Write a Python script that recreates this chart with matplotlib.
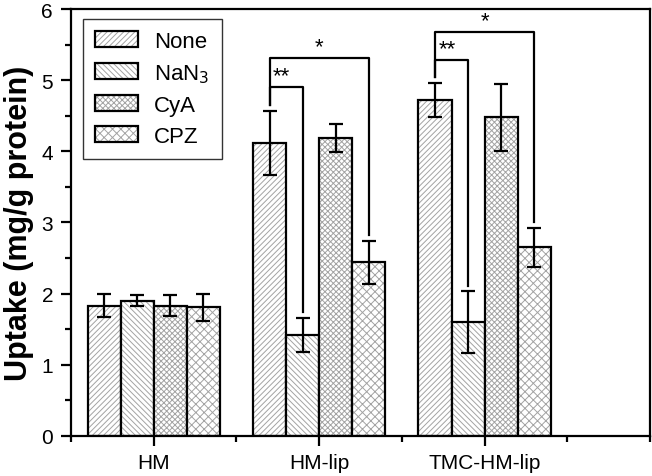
import numpy as np
import matplotlib
matplotlib.use('Agg')
import matplotlib.pyplot as plt
from matplotlib.patches import Patch
from matplotlib.legend_handler import HandlerTuple
from matplotlib.ticker import MultipleLocator

hatch_grey = '#a3a3a3'

plt.rcParams['font.family'] = ['Liberation Sans', 'DejaVu Sans']
plt.rcParams['hatch.linewidth'] = 0.7
plt.rcParams['hatch.color'] = hatch_grey

# data
groups = ['HM', 'HM-lip', 'TMC-HM-lip']
treatments = ['None', 'NaN$_3$', 'CyA', 'CPZ']
none_vals = [1.83, 4.12, 4.72]
nan3_vals = [1.90, 1.42, 1.60]
cya_vals = [1.83, 4.19, 4.48]
cpz_vals = [1.81, 2.44, 2.65]
none_err = [0.16, 0.45, 0.24]
nan3_err = [0.08, 0.24, 0.43]
cya_err = [0.15, 0.20, 0.47]
cpz_err = [0.19, 0.30, 0.27]
hatches = ['//////', '\\\\\\\\\\\\', 'xxxxxx', 'xxxx']

values = [none_vals, nan3_vals, cya_vals, cpz_vals]
errors = [none_err, nan3_err, cya_err, cpz_err]

fig = plt.figure(figsize=(6.52, 4.77), dpi=100)
ax = fig.add_axes([0.109, 0.084, 0.888, 0.895])

x = np.arange(len(groups))
width = 0.2
offsets = [-0.3, -0.1, 0.1, 0.3]

for vals, errs, off, h in zip(values, errors, offsets, hatches):
    # hatch in grey, outline in black
    ax.bar(x + off, vals, width, color='white', edgecolor=hatch_grey, hatch=h, linewidth=0)
    ax.bar(x + off, vals, width, color='none', edgecolor='black', linewidth=1.6)
    ax.errorbar(x + off, vals, yerr=errs, fmt='none', ecolor='black',
                elinewidth=1.6, capsize=5, capthick=1.6)

# significance brackets: (group, from bar, to bar, level, text)
brackets = [
    (1, 0, 1, 4.90, '**'),
    (1, 0, 3, 5.31, '*'),
    (2, 0, 1, 5.28, '**'),
    (2, 0, 3, 5.67, '*'),
]
for g, i, j, level, txt in brackets:
    x1 = g + offsets[i]
    x2 = g + offsets[j]
    y1 = values[i][g] + errors[i][g] + 0.08
    y2 = values[j][g] + errors[j][g] + 0.08
    ax.plot([x1, x1, x2, x2], [y1, level, level, y2], color='black', lw=1.6)
    if txt == '**':
        ax.text(x1 + 0.02, level + 0.02, txt, ha='left', va='bottom', fontsize=16)
    else:
        ax.text((x1 + x2) / 2, level + 0.02, txt, ha='center', va='bottom', fontsize=16)

ax.set_xlim(-0.5, 3.0)
ax.set_ylim(0, 6)
ax.set_xticks(x)
ax.set_xticklabels(groups, fontsize=15)
ax.xaxis.set_minor_locator(MultipleLocator(0.5))
ax.yaxis.set_major_locator(MultipleLocator(1))
ax.yaxis.set_minor_locator(MultipleLocator(0.5))
ax.tick_params(axis='both', which='major', direction='out', length=7, width=1.6, labelsize=15)
ax.tick_params(axis='both', which='minor', direction='out', length=4, width=1.6)
ax.tick_params(axis='x', which='both', pad=5)
ax.tick_params(axis='y', which='major', pad=6)
for s in ax.spines.values():
    s.set_linewidth(1.6)
ax.tick_params(top=False, right=False, which='both')

ax.set_ylabel('Uptake (mg/g protein)', fontsize=22, fontweight='bold')
ax.yaxis.set_label_coords(-0.064, 0.5)

handles = [(Patch(facecolor='white', edgecolor=hatch_grey, hatch=h, linewidth=0),
            Patch(facecolor='none', edgecolor='black', linewidth=1.6)) for h in hatches]
leg = ax.legend(handles, treatments, loc='upper left', fontsize=16, frameon=True,
                fancybox=False, edgecolor='black', handlelength=1.9, handleheight=0.75,
                handletextpad=0.75, borderpad=0.55, labelspacing=0.45,
                bbox_to_anchor=(0.021, 0.977), borderaxespad=0,
                handler_map={tuple: HandlerTuple(ndivide=1)})
leg.get_frame().set_linewidth(1.0)

fig.savefig('out.png', dpi=100)
